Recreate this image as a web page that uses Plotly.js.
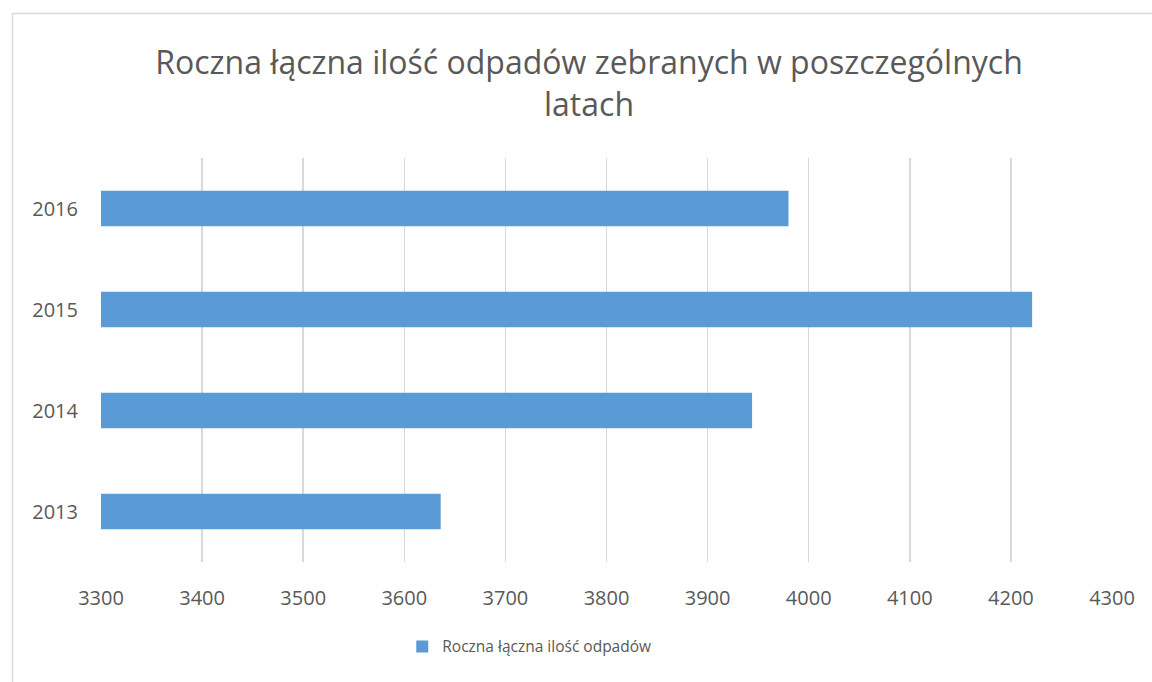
<!DOCTYPE html>
<html>
<head>
<meta charset="utf-8">
<script src="https://cdn.plot.ly/plotly-3.0.1.min.js"></script>
<style>
html,body{margin:0;padding:0;background:#fff;}
#chart{width:1152px;height:682px;}
</style>
</head>
<body>
<div id="chart"></div>
<script>
const years = ['2013', '2014', '2015', '2016'];
const values = [3636, 3944, 4221, 3980];
const seriesName = 'Roczna łączna ilość odpadów';
const chartTitle = 'Roczna łączna ilość odpadów zebranych w poszczególnych<br>latach';
const xTicks = [3300, 3400, 3500, 3600, 3700, 3800, 3900, 4000, 4100, 4200, 4300];

const FONT = '"Open Sans", "Noto Sans", sans-serif';
const GREY = '#595959';

const trace = {
  type: 'bar',
  orientation: 'h',
  y: years,
  x: values,
  name: seriesName,
  marker: {color: '#5B9BD5', line: {width: 0}},
  showlegend: true,
  hoverinfo: 'x+y'
};

const layout = {
  width: 1152,
  height: 682,
  paper_bgcolor: '#fff',
  plot_bgcolor: '#fff',
  margin: {l: 100.5, r: 40, t: 158, b: 120, pad: 0},
  font: {family: FONT, color: GREY},
  title: {
    text: chartTitle,
    font: {family: FONT, size: 32, color: GREY, lineposition: 'none'},
    x: 589 / 1152,
    xanchor: 'center',
    xref: 'container',
    yref: 'container',
    y: 1 - 74 / 682,
    yanchor: 'middle'
  },
  bargap: 0.65,
  xaxis: {
    range: [3300, 4300],
    tickvals: xTicks,
    ticktext: xTicks.map(String),
    showgrid: true,
    gridcolor: '#D9D9D9',
    gridwidth: 1.5,
    zeroline: false,
    showline: false,
    ticks: '',
    ticklabelstandoff: 22,
    tickfont: {family: FONT, size: 20, color: GREY},
    fixedrange: true
  },
  yaxis: {
    type: 'category',
    categoryorder: 'array',
    categoryarray: years,
    showgrid: false,
    zeroline: false,
    showline: false,
    ticks: '',
    ticklabelstandoff: 22,
    tickfont: {family: FONT, size: 20, color: GREY},
    fixedrange: true
  },
  legend: {
    orientation: 'h',
    x: 0.4236,
    xanchor: 'center',
    y: -0.21,
    yanchor: 'middle',
    font: {family: FONT, size: 15.5, color: GREY},
    itemwidth: 30,
    bgcolor: 'rgba(0,0,0,0)'
  },
  shapes: [{
    type: 'rect',
    xref: 'paper', yref: 'paper',
    x0: -0.0875, x1: 1.3,
    y0: -0.8, y1: 1.3577,
    line: {color: '#D9D9D9', width: 1.5},
    fillcolor: 'rgba(0,0,0,0)',
    layer: 'below'
  }]
};

Plotly.newPlot('chart', [trace], layout, {displayModeBar: false, staticPlot: true});
</script>
</body>
</html>
